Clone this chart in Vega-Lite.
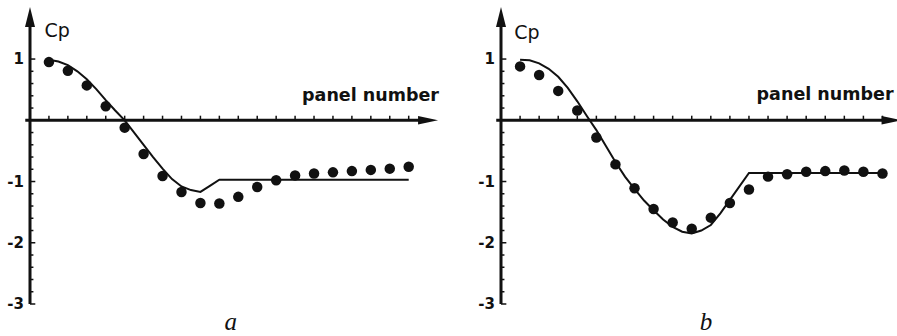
{
  "$schema": "https://vega.github.io/schema/vega-lite/v6.json",
  "autosize": {"type": "pad"},
  "padding": {"left": 7, "top": 7, "right": 0, "bottom": 0},
  "background": "white",
  "bounds": "flush",
  "spacing": 62,
  "config": {"view": {"stroke": null}},
  "datasets": {
    "cpTicks": [
      {"v": -3, "major": true, "label": "-3"}, {"v": -2.8, "major": false, "label": ""}, {"v": -2.6, "major": false, "label": ""},
      {"v": -2.4, "major": false, "label": ""}, {"v": -2.2, "major": false, "label": ""}, {"v": -2, "major": true, "label": "-2"},
      {"v": -1.8, "major": false, "label": ""}, {"v": -1.6, "major": false, "label": ""}, {"v": -1.4, "major": false, "label": ""},
      {"v": -1.2, "major": false, "label": ""}, {"v": -1, "major": true, "label": "-1"}, {"v": -0.8, "major": false, "label": ""},
      {"v": -0.6, "major": false, "label": ""}, {"v": -0.4, "major": false, "label": ""}, {"v": -0.2, "major": false, "label": ""},
      {"v": 0.2, "major": false, "label": ""}, {"v": 0.4, "major": false, "label": ""}, {"v": 0.6, "major": false, "label": ""},
      {"v": 0.8, "major": false, "label": ""}, {"v": 1, "major": true, "label": "1"}
    ],
    "measured": [
      {"panel": "a", "n": 1, "cp": 0.95}, {"panel": "a", "n": 2, "cp": 0.81}, {"panel": "a", "n": 3, "cp": 0.57}, {"panel": "a", "n": 4, "cp": 0.23},
      {"panel": "a", "n": 5, "cp": -0.12}, {"panel": "a", "n": 6, "cp": -0.55}, {"panel": "a", "n": 7, "cp": -0.91}, {"panel": "a", "n": 8, "cp": -1.17},
      {"panel": "a", "n": 9, "cp": -1.35}, {"panel": "a", "n": 10, "cp": -1.36}, {"panel": "a", "n": 11, "cp": -1.25}, {"panel": "a", "n": 12, "cp": -1.09},
      {"panel": "a", "n": 13, "cp": -0.98}, {"panel": "a", "n": 14, "cp": -0.9}, {"panel": "a", "n": 15, "cp": -0.87}, {"panel": "a", "n": 16, "cp": -0.85},
      {"panel": "a", "n": 17, "cp": -0.83}, {"panel": "a", "n": 18, "cp": -0.81}, {"panel": "a", "n": 19, "cp": -0.79}, {"panel": "a", "n": 20, "cp": -0.76},
      {"panel": "b", "n": 1, "cp": 0.88}, {"panel": "b", "n": 2, "cp": 0.74}, {"panel": "b", "n": 3, "cp": 0.48}, {"panel": "b", "n": 4, "cp": 0.16},
      {"panel": "b", "n": 5, "cp": -0.28}, {"panel": "b", "n": 6, "cp": -0.72}, {"panel": "b", "n": 7, "cp": -1.11}, {"panel": "b", "n": 8, "cp": -1.45},
      {"panel": "b", "n": 9, "cp": -1.67}, {"panel": "b", "n": 10, "cp": -1.77}, {"panel": "b", "n": 11, "cp": -1.59}, {"panel": "b", "n": 12, "cp": -1.35},
      {"panel": "b", "n": 13, "cp": -1.13}, {"panel": "b", "n": 14, "cp": -0.92}, {"panel": "b", "n": 15, "cp": -0.88}, {"panel": "b", "n": 16, "cp": -0.84},
      {"panel": "b", "n": 17, "cp": -0.83}, {"panel": "b", "n": 18, "cp": -0.82}, {"panel": "b", "n": 19, "cp": -0.84}, {"panel": "b", "n": 20, "cp": -0.87}
    ],
    "computed": [
      {"panel": "a", "n": 1, "cp": 0.99}, {"panel": "a", "n": 1.5, "cp": 0.96}, {"panel": "a", "n": 2, "cp": 0.9}, {"panel": "a", "n": 2.5, "cp": 0.8},
      {"panel": "a", "n": 3, "cp": 0.67}, {"panel": "a", "n": 3.5, "cp": 0.51}, {"panel": "a", "n": 4, "cp": 0.33}, {"panel": "a", "n": 4.5, "cp": 0.16},
      {"panel": "a", "n": 5, "cp": 0.0}, {"panel": "a", "n": 5.5, "cp": -0.2}, {"panel": "a", "n": 6, "cp": -0.4}, {"panel": "a", "n": 6.5, "cp": -0.6},
      {"panel": "a", "n": 7, "cp": -0.79}, {"panel": "a", "n": 7.5, "cp": -0.96}, {"panel": "a", "n": 8, "cp": -1.08}, {"panel": "a", "n": 8.5, "cp": -1.14},
      {"panel": "a", "n": 9, "cp": -1.17}, {"panel": "a", "n": 9.5, "cp": -1.07}, {"panel": "a", "n": 10, "cp": -0.97}, {"panel": "a", "n": 20, "cp": -0.97},
      {"panel": "b", "n": 1, "cp": 0.99}, {"panel": "b", "n": 1.5, "cp": 0.98}, {"panel": "b", "n": 2, "cp": 0.93}, {"panel": "b", "n": 2.5, "cp": 0.84},
      {"panel": "b", "n": 3, "cp": 0.71}, {"panel": "b", "n": 3.5, "cp": 0.53}, {"panel": "b", "n": 4, "cp": 0.31}, {"panel": "b", "n": 4.5, "cp": 0.07},
      {"panel": "b", "n": 5, "cp": -0.16}, {"panel": "b", "n": 5.5, "cp": -0.42}, {"panel": "b", "n": 6, "cp": -0.68}, {"panel": "b", "n": 6.5, "cp": -0.92},
      {"panel": "b", "n": 7, "cp": -1.12}, {"panel": "b", "n": 7.5, "cp": -1.31}, {"panel": "b", "n": 8, "cp": -1.47}, {"panel": "b", "n": 8.5, "cp": -1.62},
      {"panel": "b", "n": 9, "cp": -1.74}, {"panel": "b", "n": 9.5, "cp": -1.82}, {"panel": "b", "n": 10, "cp": -1.85}, {"panel": "b", "n": 10.5, "cp": -1.8},
      {"panel": "b", "n": 11, "cp": -1.71}, {"panel": "b", "n": 11.5, "cp": -1.52}, {"panel": "b", "n": 12, "cp": -1.3}, {"panel": "b", "n": 13, "cp": -0.86},
      {"panel": "b", "n": 20, "cp": -0.86}
    ]
  },
  "hconcat": [
    {
      "width": 409,
      "height": 297,
      "layer": [
        {
          "data": {"values": [{}]},
          "mark": {"type": "rule", "strokeWidth": 3, "color": "#111"},
          "encoding": {
            "x": {"datum": 0, "type": "quantitative", "scale": {"domain": [0, 21.6], "nice": false, "zero": false}, "axis": null},
            "y": {"datum": -3, "type": "quantitative", "scale": {"domain": [-3, 1.85], "nice": false, "zero": false}, "axis": null},
            "y2": {"datum": 1.55}
          }
        },
        {
          "data": {"values": [{}]},
          "mark": {"type": "rule", "strokeWidth": 3, "color": "#111"},
          "encoding": {
            "x": {"datum": -0.25, "type": "quantitative", "axis": null},
            "x2": {"datum": 20.7},
            "y": {"datum": 0, "type": "quantitative", "axis": null}
          }
        },
        {
          "data": {"name": "measured"},
          "transform": [{"filter": "datum.panel === 'a'"}],
          "mark": {"type": "rule", "strokeWidth": 1.5, "color": "#111"},
          "encoding": {
            "x": {"field": "n", "type": "quantitative", "axis": null},
            "y": {"datum": 0, "type": "quantitative", "axis": null},
            "y2": {"datum": 0.075}
          }
        },
        {
          "data": {"name": "cpTicks"},
          "transform": [{"filter": "!datum.major"}],
          "mark": {"type": "rule", "strokeWidth": 1.5, "color": "#111"},
          "encoding": {
            "x": {"datum": 0, "type": "quantitative", "axis": null},
            "x2": {"datum": 0.18},
            "y": {"field": "v", "type": "quantitative", "axis": null}
          }
        },
        {
          "data": {"name": "cpTicks"},
          "transform": [{"filter": "datum.major"}],
          "mark": {"type": "rule", "strokeWidth": 1.5, "color": "#111"},
          "encoding": {
            "x": {"datum": 0, "type": "quantitative", "axis": null},
            "x2": {"datum": 0.28},
            "y": {"field": "v", "type": "quantitative", "axis": null}
          }
        },
        {
          "data": {"name": "cpTicks"},
          "transform": [{"filter": "datum.major"}],
          "mark": {"type": "text", "font": "DejaVu Sans", "fontWeight": "bold", "fontSize": 15, "align": "right", "baseline": "middle", "dx": -6, "color": "#111"},
          "encoding": {
            "x": {"datum": 0, "type": "quantitative", "axis": null},
            "y": {"field": "v", "type": "quantitative", "axis": null},
            "text": {"field": "label"}
          }
        },
        {
          "data": {"values": [{}]},
          "mark": {"type": "point", "shape": "M0,0L0.5,2L-0.5,2Z", "filled": true, "size": 400, "color": "#111", "opacity": 1},
          "encoding": {
            "x": {"datum": 0, "type": "quantitative", "axis": null},
            "y": {"datum": 1.85, "type": "quantitative", "axis": null}
          }
        },
        {
          "data": {"values": [{}]},
          "mark": {"type": "point", "shape": "M0,0L-2,-0.42L-2,0.42Z", "filled": true, "size": 400, "color": "#111", "opacity": 1},
          "encoding": {
            "x": {"datum": 21.55, "type": "quantitative", "axis": null},
            "y": {"datum": 0, "type": "quantitative", "axis": null}
          }
        },
        {
          "data": {"name": "computed"},
          "transform": [{"filter": "datum.panel === 'a'"}],
          "mark": {"type": "line", "strokeWidth": 2, "color": "#111"},
          "encoding": {
            "x": {"field": "n", "type": "quantitative", "axis": null},
            "y": {"field": "cp", "type": "quantitative", "axis": null}
          }
        },
        {
          "data": {"name": "measured"},
          "transform": [{"filter": "datum.panel === 'a'"}],
          "mark": {"type": "point", "shape": "circle", "filled": true, "size": 110, "color": "#111", "opacity": 1},
          "encoding": {
            "x": {"field": "n", "type": "quantitative", "axis": null},
            "y": {"field": "cp", "type": "quantitative", "axis": null}
          }
        },
        {
          "data": {"values": [{}]},
          "mark": {"type": "text", "text": "Cp", "font": "DejaVu Sans", "fontSize": 19, "align": "left", "baseline": "alphabetic", "color": "#111"},
          "encoding": {
            "x": {"datum": 0.77, "type": "quantitative", "axis": null},
            "y": {"datum": 1.36, "type": "quantitative", "axis": null}
          }
        },
        {
          "data": {"values": [{}]},
          "mark": {"type": "text", "text": "panel number", "font": "DejaVu Sans", "fontWeight": "bold", "fontSize": 17.5, "align": "right", "baseline": "alphabetic", "color": "#111"},
          "encoding": {
            "x": {"datum": 21.6, "type": "quantitative", "axis": null},
            "y": {"datum": 0.31, "type": "quantitative", "axis": null}
          }
        },
        {
          "data": {"values": [{}]},
          "mark": {"type": "text", "text": "a", "font": "Liberation Serif", "fontStyle": "italic", "fontSize": 25, "align": "center", "baseline": "bottom", "color": "#111"},
          "encoding": {
            "x": {"datum": 10.6, "type": "quantitative", "axis": null},
            "y": {"datum": -3.5, "type": "quantitative", "axis": null}
          }
        }
      ]
    },
    {
      "width": 412,
      "height": 297,
      "layer": [
        {
          "data": {"values": [{}]},
          "mark": {"type": "rule", "strokeWidth": 3, "color": "#111"},
          "encoding": {
            "x": {"datum": 0, "type": "quantitative", "scale": {"domain": [0, 21.6], "nice": false, "zero": false}, "axis": null},
            "y": {"datum": -3, "type": "quantitative", "scale": {"domain": [-3, 1.85], "nice": false, "zero": false}, "axis": null},
            "y2": {"datum": 1.55}
          }
        },
        {
          "data": {"values": [{}]},
          "mark": {"type": "rule", "strokeWidth": 3, "color": "#111"},
          "encoding": {
            "x": {"datum": -0.25, "type": "quantitative", "axis": null},
            "x2": {"datum": 20.2},
            "y": {"datum": 0, "type": "quantitative", "axis": null}
          }
        },
        {
          "data": {"name": "measured"},
          "transform": [{"filter": "datum.panel === 'b'"}],
          "mark": {"type": "rule", "strokeWidth": 1.5, "color": "#111"},
          "encoding": {
            "x": {"field": "n", "type": "quantitative", "axis": null},
            "y": {"datum": 0, "type": "quantitative", "axis": null},
            "y2": {"datum": 0.075}
          }
        },
        {
          "data": {"name": "cpTicks"},
          "transform": [{"filter": "!datum.major"}],
          "mark": {"type": "rule", "strokeWidth": 1.5, "color": "#111"},
          "encoding": {
            "x": {"datum": 0, "type": "quantitative", "axis": null},
            "x2": {"datum": 0.18},
            "y": {"field": "v", "type": "quantitative", "axis": null}
          }
        },
        {
          "data": {"name": "cpTicks"},
          "transform": [{"filter": "datum.major"}],
          "mark": {"type": "rule", "strokeWidth": 1.5, "color": "#111"},
          "encoding": {
            "x": {"datum": 0, "type": "quantitative", "axis": null},
            "x2": {"datum": 0.28},
            "y": {"field": "v", "type": "quantitative", "axis": null}
          }
        },
        {
          "data": {"name": "cpTicks"},
          "transform": [{"filter": "datum.major"}],
          "mark": {"type": "text", "font": "DejaVu Sans", "fontWeight": "bold", "fontSize": 15, "align": "right", "baseline": "middle", "dx": -6, "color": "#111"},
          "encoding": {
            "x": {"datum": 0, "type": "quantitative", "axis": null},
            "y": {"field": "v", "type": "quantitative", "axis": null},
            "text": {"field": "label"}
          }
        },
        {
          "data": {"values": [{}]},
          "mark": {"type": "point", "shape": "M0,0L0.5,2L-0.5,2Z", "filled": true, "size": 400, "color": "#111", "opacity": 1},
          "encoding": {
            "x": {"datum": 0, "type": "quantitative", "axis": null},
            "y": {"datum": 1.85, "type": "quantitative", "axis": null}
          }
        },
        {
          "data": {"values": [{}]},
          "mark": {"type": "point", "shape": "M0,0L-2,-0.42L-2,0.42Z", "filled": true, "size": 400, "color": "#111", "opacity": 1},
          "encoding": {
            "x": {"datum": 21.0, "type": "quantitative", "axis": null},
            "y": {"datum": 0, "type": "quantitative", "axis": null}
          }
        },
        {
          "data": {"name": "computed"},
          "transform": [{"filter": "datum.panel === 'b'"}],
          "mark": {"type": "line", "strokeWidth": 2, "color": "#111"},
          "encoding": {
            "x": {"field": "n", "type": "quantitative", "axis": null},
            "y": {"field": "cp", "type": "quantitative", "axis": null}
          }
        },
        {
          "data": {"name": "measured"},
          "transform": [{"filter": "datum.panel === 'b'"}],
          "mark": {"type": "point", "shape": "circle", "filled": true, "size": 110, "color": "#111", "opacity": 1},
          "encoding": {
            "x": {"field": "n", "type": "quantitative", "axis": null},
            "y": {"field": "cp", "type": "quantitative", "axis": null}
          }
        },
        {
          "data": {"values": [{}]},
          "mark": {"type": "text", "text": "Cp", "font": "DejaVu Sans", "fontSize": 19, "align": "left", "baseline": "alphabetic", "color": "#111"},
          "encoding": {
            "x": {"datum": 0.7, "type": "quantitative", "axis": null},
            "y": {"datum": 1.32, "type": "quantitative", "axis": null}
          }
        },
        {
          "data": {"values": [{}]},
          "mark": {"type": "text", "text": "panel number", "font": "DejaVu Sans", "fontWeight": "bold", "fontSize": 17.5, "align": "left", "baseline": "alphabetic", "color": "#111"},
          "encoding": {
            "x": {"datum": 13.4, "type": "quantitative", "axis": null},
            "y": {"datum": 0.33, "type": "quantitative", "axis": null}
          }
        },
        {
          "data": {"values": [{}]},
          "mark": {"type": "text", "text": "b", "font": "Liberation Serif", "fontStyle": "italic", "fontSize": 25, "align": "center", "baseline": "bottom", "color": "#111"},
          "encoding": {
            "x": {"datum": 10.75, "type": "quantitative", "axis": null},
            "y": {"datum": -3.5, "type": "quantitative", "axis": null}
          }
        }
      ]
    }
  ]
}
